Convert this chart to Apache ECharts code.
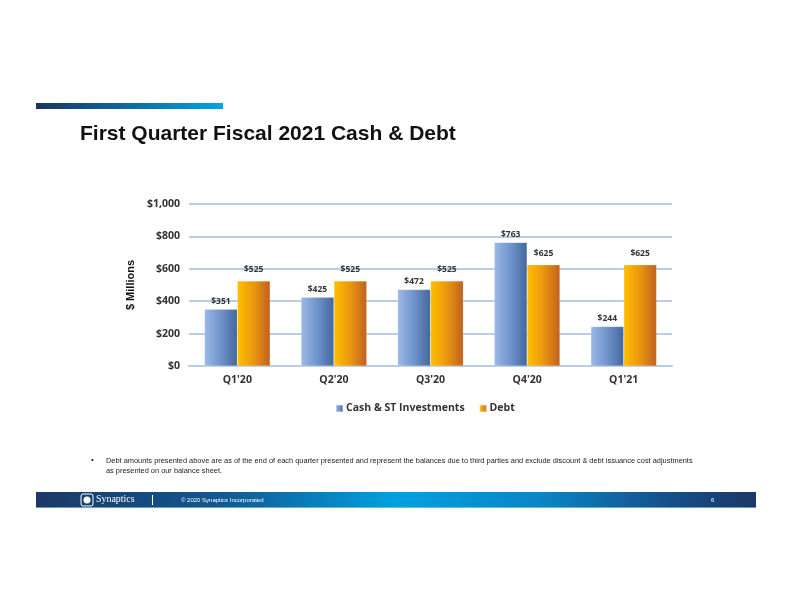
<!DOCTYPE html>
<html><head><meta charset="utf-8">
<script src="https://cdn.jsdelivr.net/npm/echarts@6/dist/echarts.min.js"></script>
<style>html,body{margin:0;padding:0;background:#fff}#c{width:792px;height:612px}</style>
</head><body><div id="c"></div>
<script>
const categories = ["Q1'20", "Q2'20", "Q3'20", "Q4'20", "Q1'21"];
const cashValues = [351, 425, 472, 763, 244];
const debtValues = [525, 525, 525, 625, 625];
const seriesNames = ["Cash & ST Investments", "Debt"];
const yTicks = { min: 0, max: 1000, interval: 200 };

const chart = echarts.init(document.getElementById('c'), null, { renderer: 'canvas' });
const lblFont = '"Open Sans", Lato, sans-serif';
const blueGrad = new echarts.graphic.LinearGradient(0, 0, 1, 0, [
  { offset: 0, color: '#9cb9e7' }, { offset: 0.5, color: '#7093cb' }, { offset: 1, color: '#42679c' }]);
const orangeGrad = new echarts.graphic.LinearGradient(0, 0, 1, 0, [
  { offset: 0, color: '#ffc000' }, { offset: 0.5, color: '#eb9610' }, { offset: 1, color: '#c0601f' }]);

chart.setOption({
  animation: false,
  grid: { left: 189, right: 120, top: 204, bottom: 246 },
  legend: {
    data: seriesNames, left: 330, top: 398, itemWidth: 7, itemHeight: 7, itemGap: 14, icon: 'rect',
    textStyle: { fontFamily: lblFont, fontWeight: 'bold', fontSize: 10.5, color: '#333', padding: [0, 0, 0, -2] }
  },
  xAxis: {
    type: 'category', data: categories,
    axisLine: { lineStyle: { color: '#b9cde5', width: 2 } },
    axisTick: { show: false },
    axisLabel: { fontFamily: lblFont, fontWeight: 'bold', fontSize: 10.5, color: '#333', margin: 9 }
  },
  yAxis: {
    type: 'value', min: yTicks.min, max: yTicks.max, interval: yTicks.interval,
    name: '$ Millions', nameLocation: 'middle', nameGap: 51, nameRotate: 90,
    nameTextStyle: { fontFamily: 'Arial, "Liberation Sans", sans-serif', fontWeight: 'bold', fontSize: 11, color: '#111' },
    axisLine: { show: false }, axisTick: { show: false },
    splitLine: { lineStyle: { color: '#b9cde5', width: 2 } },
    axisLabel: {
      fontFamily: lblFont, fontWeight: 'bold', fontSize: 10.5, color: '#333', margin: 9,
      formatter: v => '$' + v.toLocaleString('en-US')
    }
  },
  series: [
    { name: seriesNames[0], type: 'bar', data: cashValues, barGap: '0%', barCategoryGap: '32%',
      itemStyle: { color: blueGrad, borderColor: 'rgba(255,255,255,0.35)', borderWidth: 0.5 },
      label: { show: true, position: 'top', distance: 3, fontFamily: lblFont, fontWeight: 'bold', fontSize: 8.5, color: '#333', formatter: p => '$' + p.value } },
    { name: seriesNames[1], type: 'bar', data: debtValues,
      itemStyle: { color: orangeGrad, borderColor: 'rgba(255,255,255,0.35)', borderWidth: 0.5 },
      label: { show: true, position: 'top', distance: 7, fontFamily: lblFont, fontWeight: 'bold', fontSize: 8.5, color: '#333', formatter: p => '$' + p.value } }
  ],
  graphic: [
    { type: 'rect', shape: { x: 36, y: 103, width: 187, height: 6 },
      style: { fill: new echarts.graphic.LinearGradient(0, 0, 1, 0, [{ offset: 0, color: '#1b3560' }, { offset: 0.5, color: '#0e6aa3' }, { offset: 1, color: '#00a5e3' }]) } },
    { type: 'text', left: 80, top: 124, style: { text: 'First Quarter Fiscal 2021 Cash & Debt', font: 'bold 21px Arial, "Liberation Sans", sans-serif', fill: '#111' } },
    { type: 'text', left: 91, top: 456, style: { text: '•', font: '8px Arial, "Liberation Sans", sans-serif', fill: '#222' } },
    { type: 'text', x: 106, y: 456, scaleX: 0.925, style: { text: 'Debt amounts presented above are as of the end of each quarter presented and represent the balances due to third parties and exclude discount & debt issuance cost adjustments\nas presented on our balance sheet.', font: '8px Arial, "Liberation Sans", sans-serif', fill: '#222', lineHeight: 10 } },
    { type: 'rect', shape: { x: 36, y: 492, width: 720, height: 16 },
      style: { fill: new echarts.graphic.LinearGradient(0, 0, 1, 0, [{ offset: 0, color: '#1c3866' }, { offset: 0.25, color: '#12568f' }, { offset: 0.5, color: '#00a1e0' }, { offset: 0.7, color: '#0a86c6' }, { offset: 0.88, color: '#154f88' }, { offset: 1, color: '#1c3866' }]) } },
    { type: 'rect', shape: { x: 36, y: 507, width: 720, height: 1 }, style: { fill: 'rgba(160,210,240,0.6)' } },
    { type: 'rect', shape: { x: 81, y: 494, width: 12, height: 12, r: 2 }, style: { fill: 'none', stroke: '#ffffff', lineWidth: 1 } },
    { type: 'circle', shape: { cx: 87, cy: 500, r: 3.5 }, style: { fill: '#ffffff' } },
    { type: 'text', x: 96, y: 494, scaleX: 0.9, style: { text: 'Synaptics', font: '11px "Liberation Serif", "DejaVu Serif", serif', fill: '#ffffff' } },
    { type: 'rect', shape: { x: 152, y: 495, width: 1, height: 10 }, style: { fill: '#ffffff' } },
    { type: 'text', left: 181, top: 497, style: { text: '© 2020 Synaptics Incorporated', font: '6px Arial, "Liberation Sans", sans-serif', fill: '#ffffff' } },
    { type: 'text', left: 711, top: 497, style: { text: '6', font: '6px Arial, "Liberation Sans", sans-serif', fill: '#ffffff' } }
  ]
});
</script></body></html>
